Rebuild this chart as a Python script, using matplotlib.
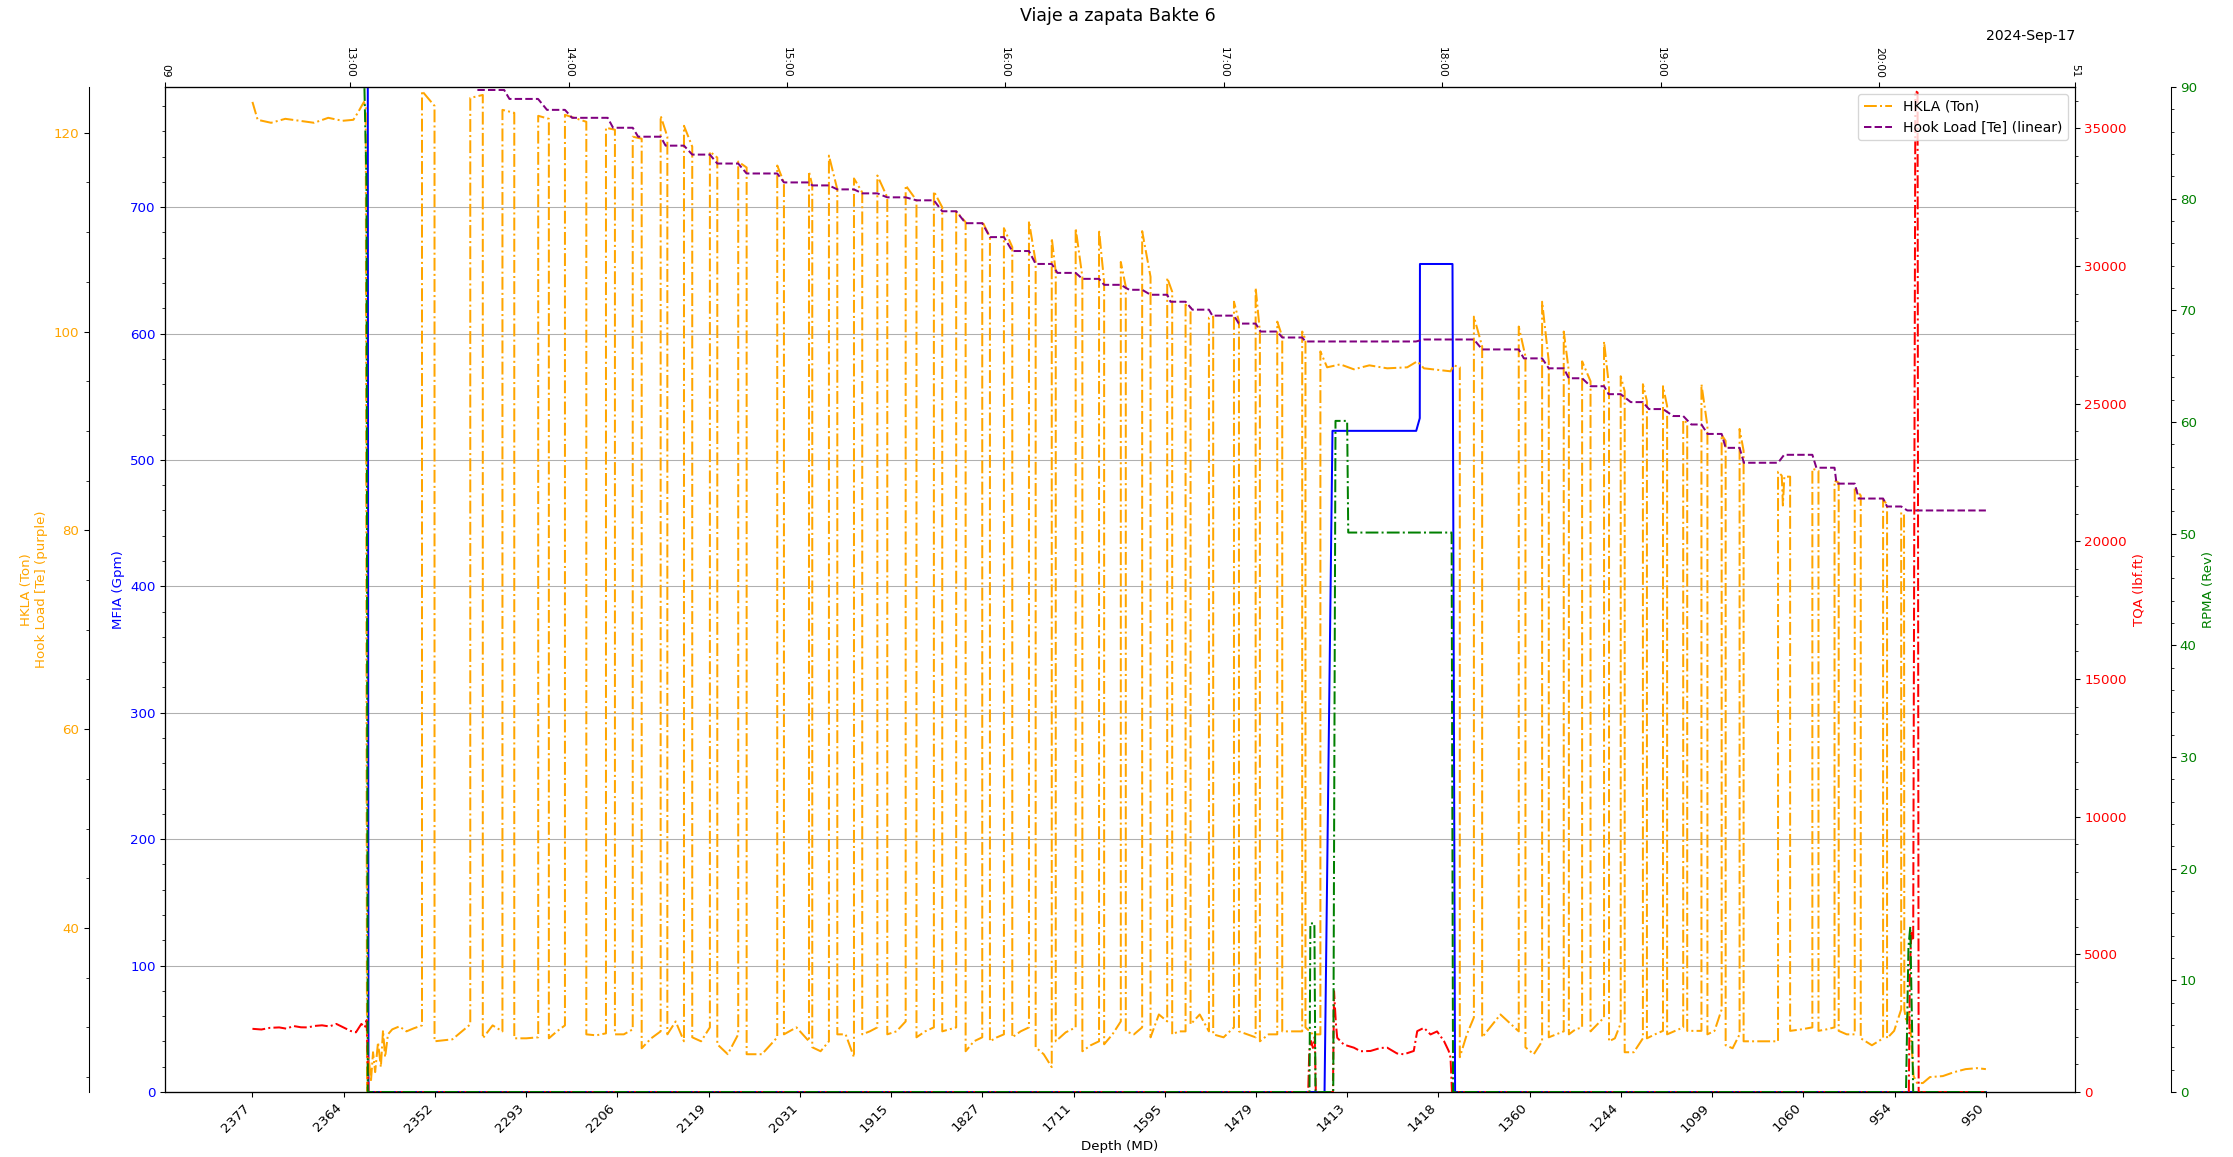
import numpy as np
import matplotlib
matplotlib.use('Agg')
import matplotlib.pyplot as plt
import matplotlib.dates as mdates
from matplotlib.ticker import MultipleLocator
from datetime import datetime, timedelta

# ---------------- data (times in minutes after 12:00, 2024-09-17) ----------------
BASE = datetime(2024, 9, 17, 12, 0, 0)

# HKLA (Ton) - segment before the first stand
hkla_pre_t = [33.17, 34.6, 38.3, 42.2, 46.2, 50.1, 54.0, 57.9, 60.9, 62.1, 63.8, 64.3,
              64.65, 65.12, 65.71, 66.30, 66.88, 67.67, 68.45, 69.04, 69.62, 70.40,
              71.58, 73.53, 75.49, 77.45, 79.75]
hkla_pre_v = [123.1, 121.3, 121.0, 121.4, 121.2, 121.0, 121.5, 121.2, 121.3, 122.0, 123.1, 122.5,
              23.6, 27.0, 24.5, 27.5, 25.5, 28.5, 26.0, 29.7, 27.0, 29.3,
              29.8, 30.1, 29.6, 29.9, 30.2]

# HKLA stands (pick-up / set-in-slips times and loads)
spike_up = [79.75, 93.01, 101.85, 111.67, 119.02, 130.29, 137.64, 145.31, 151.72, 158.84,
            166.62, 177.34, 186.06, 191.54, 198.42, 204.84, 212.62, 220.37, 226.50, 233.66,
            239.61, 246.49, 252.75, 259.32, 265.74, 271.72, 277.59, 284.47, 289.51, 295.93,
            302.81, 308.76, 314.70, 321.55, 326.55, 368.72, 381.04, 387.46, 393.40, 398.45,
            404.47, 409.05, 415.15, 420.67, 426.22, 431.23, 436.78, 441.71, 452.27, 461.70,
            467.79, 473.34, 481.13, 486.10]
spike_down = [83.19, 96.45, 105.10, 114.60, 124.89, 132.75, 140.10, 147.15, 153.99, 160.87,
              168.93, 179.18, 186.96, 193.84, 200.69, 207.57, 215.59, 222.67, 229.09, 235.77,
              241.91, 248.33, 253.85, 261.16, 267.14, 273.09, 279.89, 285.84, 290.88, 297.10,
              304.18, 309.93, 316.07, 322.45, 364.85, 370.99, 382.88, 389.29, 394.81, 400.76,
              405.84, 410.14, 416.25, 421.80, 427.32, 432.87, 437.88, 442.81, 455.59, 463.38,
              468.93, 474.99, 482.22, 486.88]
peak_up = [124.2, 123.5, 122.3, 121.7, 121.8, 120.5, 119.6, 121.7, 120.7, 118.1,
           117.1, 116.7, 116.1, 117.7, 115.4, 115.7, 114.7, 114.1, 112.1, 111.1,
           110.4, 111.1, 109.4, 110.4, 110.2, 107.0, 110.1, 105.4, 102.7, 101.4,
           103.0, 104.4, 101.0, 100.0, 98.0, 101.5, 100.5, 103.0, 100.0, 97.0,
           99.0, 95.5, 94.7, 94.5, 91.1, 94.7, 89.6, 90.2, 85.9, 86.2,
           85.0, 84.3, 83.1, 81.8]
peak_down = [122.7, 123.8, 122.0, 121.4, 121.1, 120.3, 119.4, 119.6, 118.6, 117.5,
             116.5, 115.0, 114.7, 114.3, 114.0, 113.5, 113.2, 112.5, 111.0, 109.5,
             108.5, 107.0, 106.0, 105.5, 105.0, 104.5, 105.5, 104.0, 102.4, 101.5,
             101.0, 100.0, 99.5, 99.2, 96.4, 98.5, 97.5, 97.0, 96.0, 95.0,
             94.5, 94.0, 93.0, 92.5, 90.8, 90.5, 89.0, 88.0, 85.4, 86.0,
             84.8, 83.5, 82.6, 81.5]
# loads while in slips between stands (after set, middle, before pick-up)
gap_lows = [[28.6, 28.8, 30.3], [28.9, 30.2, 29.6], [28.9, 28.9, 29.0], [28.9, 29.6, 30.2],
            [29.3, 29.2, 29.4], [29.3, 29.3, 29.8], [27.9, 28.9, 29.6], [29.3, 30.6, 28.6],
            [29.0, 28.6, 30.0], [28.3, 27.3, 29.3], [27.3, 27.3, 29.0], [29.3, 30.0, 28.6],
            [28.0, 27.6, 28.6], [29.3, 29.3, 27.0], [29.3, 29.6, 30.0], [29.3, 29.6, 30.6],
            [29.0, 29.6, 30.0], [29.6, 29.8, 30.0], [27.6, 28.6, 29.0], [28.6, 29.0, 29.3],
            [29.0, 29.6, 30.0], [28.0, 27.3, 26.0], [28.6, 29.5, 30.0], [27.6, 28.2, 28.6],
            [28.3, 29.3, 30.6], [29.6, 29.3, 30.0], [29.0, 31.3, 30.6], [29.3, 29.6, 29.6],
            [30.3, 31.3, 29.6], [29.3, 29.0, 30.0], [29.6, 29.3, 29.0], [28.6, 29.3, 29.3],
            [29.6, 29.6, 29.6], [30.0, 29.3, 29.3], [27.0, 29.3, 31.0], [29.0, 31.3, 29.6],
            [28.0, 27.3, 28.6], [29.0, 29.3, 29.6], [29.3, 29.8, 30.0], [29.6, 30.3, 31.0],
            [28.6, 28.9, 30.4], [27.5, 27.5, 28.9], [28.9, 29.3, 29.65], [29.3, 29.65, 30.0],
            [29.65, 29.65, 29.65], [29.3, 29.65, 31.8], [28.2, 27.9, 29.3], [28.6, 28.6, 28.6],
            [29.65, 29.8, 30.0], [29.65, 29.8, 30.0], [29.65, 29.3, 29.3], [28.9, 28.2, 28.9],
            [28.9, 29.65, 31.8]]
# circulating / rotating period (off slips)
plateau_t = [328.4, 332.0, 335.75, 340.0, 344.9, 350.4, 353.15, 355.0, 362.3, 363.2]
plateau_v = [96.4, 96.7, 96.2, 96.6, 96.3, 96.4, 97.0, 96.3, 96.0, 96.6]
dip_t = [453.3, 453.6, 454.0]
dip_v = [85.5, 82.5, 85.4]
hkla_post_t = [486.96, 487.55, 488.14, 488.72, 489.51, 490.48, 492.05, 494.0, 497.53,
               500.66, 503.79, 506.92, 509.37]
hkla_post_v = [31.8, 30.5, 31.5, 29.5, 25.1, 24.4, 24.4, 25.0, 25.1, 25.5, 25.8, 25.9, 25.8]

# Hook Load [Te] (linear): levels and step times
hl_start_t, hl_end_t = 94.97, 509.37
hl_step_start = [102.32, 111.63, 119.02, 130.76, 137.64, 145.31, 151.72, 158.84, 166.62, 177.34,
                 186.06, 191.54, 198.42, 204.84, 212.62, 220.37, 226.50, 233.66, 239.61, 246.49,
                 252.75, 259.32, 265.74, 271.72, 277.59, 284.47, 289.51, 295.93, 302.81, 308.76,
                 314.70, 321.55, 352.80, 368.72, 381.04, 387.46, 393.40, 398.45, 404.47, 409.05,
                 415.15, 420.67, 426.22, 431.23, 436.78, 441.71, 452.27, 461.70, 467.79, 473.34,
                 481.13, 486.10]
hl_step_end = [103.77, 114.09, 120.98, 132.24, 139.13, 146.67, 153.99, 160.87, 168.93, 179.18,
               186.96, 193.84, 200.69, 207.57, 215.59, 222.67, 229.09, 235.77, 241.91, 248.33,
               254.31, 261.16, 267.14, 274.03, 279.89, 285.37, 291.39, 296.87, 304.14, 310.13,
               316.07, 322.45, 354.95, 370.99, 382.45, 389.29, 394.81, 400.76, 405.72, 411.82,
               416.79, 423.49, 428.45, 432.91, 437.88, 442.88, 453.95, 462.80, 468.34, 474.44,
               482.22, 487.79]
hl_levels = [124.3, 123.4, 122.3, 121.5, 120.5, 119.6, 118.7, 117.8, 116.9, 115.9, 115.0,
             114.7, 114.3, 113.9, 113.5, 113.2, 112.1, 110.9, 109.5, 108.1, 106.8, 105.9,
             105.3, 104.7, 104.2, 103.7, 103.0, 102.2, 101.6, 100.8, 100.0, 99.4, 99.0,
             99.2, 98.2, 97.3, 96.3, 95.3, 94.5, 93.7, 92.9, 92.2, 91.5, 90.65, 89.7,
             88.3, 86.8, 87.6, 86.3, 84.7, 83.2, 82.4, 82.0]

# MFIA (Gpm)
mfia_t = [33.17, 64.85, 65.05, 327.69, 329.87, 352.87, 353.85, 353.9, 362.84, 363.55, 509.37]
mfia_v = [830, 830, 0, 0, 523, 523, 533, 655, 655, 0, 0]

# TQA (lbf.ft)
tqa_t = [33.17, 35.63, 38.0, 40.52, 42.5, 44.44, 46.5, 48.35, 50.3, 52.29, 54.3, 56.21, 58.16,
         60.12, 61.6, 63.09, 64.07, 64.54, 64.8, 65.05, 323.2, 323.5, 324.0, 324.5, 325.0,
         325.3, 330.0, 330.3, 330.8, 331.17, 333.0, 335.75, 337.6, 340.3, 343.05, 344.9,
         347.6, 349.5, 352.2, 353.15, 355.0, 356.8, 358.6, 360.5, 361.8, 362.3, 362.7,
         488.2, 488.5, 488.9, 489.4, 490.0, 490.6, 490.9, 509.37]
tqa_v = [2295, 2270, 2330, 2346, 2300, 2397, 2350, 2346, 2400, 2422, 2380, 2473, 2346,
         2218, 2167, 2473, 2346, 2601, 1453, 0, 0, 1500, 1850, 1600, 2000,
         0, 0, 3660, 2500, 1970, 1720, 1610, 1480, 1490, 1600, 1610,
         1400, 1370, 1490, 2210, 2330, 2090, 2200, 1850, 1490, 1250, 0,
         0, 4500, 5780, 5500, 36350, 36300, 0, 0]

# RPMA (Rev)
rpm_t = [33.17, 63.8, 63.95, 64.5, 64.85, 323.55, 323.8, 324.9, 325.2, 330.08, 330.7,
         333.9, 334.2, 362.6, 363.0, 487.42, 488.1, 488.6, 489.4, 509.37]
rpm_v = [97, 97, 89.7, 81.5, 0, 0, 15.1, 15.1, 0, 0, 60.1,
         60.1, 50.1, 50.1, 0, 0, 13.0, 14.8, 0, 0]

# axis labels / ticks
depth_labels = ['2377', '2364', '2352', '2293', '2206', '2119', '2031', '1915', '1827', '1711',
                '1595', '1479', '1413', '1418', '1360', '1244', '1099', '1060', '954', '950']
hour_ticks = [13, 14, 15, 16, 17, 18, 19, 20]
edge_labels = ['09', '51']
xlim_minutes = [9.15, 533.85]

# ---------------- build series ----------------
def tm(mins):
    return [BASE + timedelta(minutes=float(m)) for m in mins]

ot, ov = list(hkla_pre_t), list(hkla_pre_v)
n = len(spike_up)
for i in range(n):
    ot.append(spike_up[i]); ov.append(peak_up[i])
    if i == 34:
        ot += plateau_t; ov += plateau_v
    if i == 48:
        ot += dip_t; ov += dip_v
    ot.append(spike_down[i]); ov.append(peak_down[i])
    if i < n - 1:
        mid = 0.5 * (spike_down[i] + spike_up[i + 1])
        ot += [spike_down[i], mid, spike_up[i + 1]]
        ov += gap_lows[i]
ot += hkla_post_t; ov += hkla_post_v

ht, hv = [hl_start_t], [hl_levels[0]]
for k in range(len(hl_step_start)):
    ht += [hl_step_start[k], hl_step_end[k]]
    hv += [hl_levels[k], hl_levels[k + 1]]
ht.append(hl_end_t); hv.append(hl_levels[-1])

# ---------------- figure ----------------
DPI = 96
fig = plt.figure(figsize=(2233 / DPI, 1157 / DPI), dpi=DPI)
ax = fig.add_subplot(111)
fig.subplots_adjust(left=165 / 2233, right=2075 / 2233, top=1 - 87 / 1157, bottom=1 - 1092 / 1157)

ax_h = ax.twinx()
ax_t = ax.twinx()
ax_r = ax.twinx()

ax.plot(tm(mfia_t), mfia_v, color='blue', lw=1.5, label='MFIA (Gpm)')
l1, = ax_h.plot(tm(ot), ov, color='orange', ls='-.', lw=1.5, label='HKLA (Ton)')
l2, = ax_h.plot(tm(ht), hv, color='purple', ls='--', lw=1.5, label='Hook Load [Te] (linear)')
ax_t.plot(tm(tqa_t), tqa_v, color='red', ls='-.', lw=1.5)
ax_r.plot(tm(rpm_t), rpm_v, color='green', ls='-.', lw=1.5)

xmin = mdates.date2num(BASE + timedelta(minutes=xlim_minutes[0]))
xmax = mdates.date2num(BASE + timedelta(minutes=xlim_minutes[1]))
for a in (ax, ax_h, ax_t, ax_r):
    a.set_xlim(xmin, xmax)

ax.set_ylim(0, 795)
ax_h.set_ylim(23.5, 124.6)
ax_t.set_ylim(0, 36500)
ax_r.set_ylim(0, 90)

ax.yaxis.set_major_locator(MultipleLocator(100)); ax.yaxis.set_minor_locator(MultipleLocator(20))
ax_h.yaxis.set_major_locator(MultipleLocator(20)); ax_h.yaxis.set_minor_locator(MultipleLocator(5))
ax_t.yaxis.set_major_locator(MultipleLocator(5000)); ax_t.yaxis.set_minor_locator(MultipleLocator(1000))
ax_r.yaxis.set_major_locator(MultipleLocator(10)); ax_r.yaxis.set_minor_locator(MultipleLocator(2))

ax_h.spines['left'].set_position(('axes', -0.04))
ax_h.spines['left'].set_visible(True)
ax_h.spines['right'].set_visible(False)
ax_h.yaxis.set_ticks_position('left')
ax_h.yaxis.set_label_position('left')
ax_r.spines['right'].set_position(('axes', 1.05))

ax.set_ylabel('MFIA (Gpm)', color='blue')
ax_h.set_ylabel('HKLA (Ton)\nHook Load [Te] (purple)', color='orange')
ax_t.set_ylabel('TQA (lbf.ft)', color='red')
ax_r.set_ylabel('RPMA (Rev)', color='green')
ax.tick_params(axis='y', which='both', labelcolor='blue')
ax_h.tick_params(axis='y', which='both', labelcolor='orange')
ax_t.tick_params(axis='y', which='both', labelcolor='red')
ax_r.tick_params(axis='y', which='both', labelcolor='green')

ax.grid(True, axis='y', color='#b0b0b0', lw=0.8)

# bottom: depth labels at evenly spaced times across the record
t0 = mdates.date2num(BASE + timedelta(minutes=hkla_pre_t[0]))
t1 = mdates.date2num(BASE + timedelta(minutes=hkla_post_t[-1]))
ax.set_xticks(np.linspace(t0, t1, len(depth_labels)))
ax.set_xticklabels(depth_labels, rotation=45, ha='right')
ax.set_xlabel('Depth (MD)')

# top: clock time
ax_top = ax.twiny()
ax_top.set_xlim(xmin, xmax)
top_pos = [xmin] + [mdates.date2num(BASE + timedelta(hours=h - 12)) for h in hour_ticks] + [xmax]
top_lab = [edge_labels[0]] + ['%02d:00' % h for h in hour_ticks] + [edge_labels[1]]
ax_top.set_xticks(top_pos)
ax_top.set_xticklabels(top_lab, rotation=-90, fontsize=8)
ax_top.annotate('2024-Sep-17', xy=(1, 1), xycoords='axes fraction', xytext=(0, 35),
                textcoords='offset points', ha='right', va='baseline', fontsize=10.5)

ax_r.legend(handles=[l1, l2], loc='upper right', fontsize=10.5)

fig.text(1118 / 2233, 1 - 16 / 1157, 'Viaje a zapata Bakte 6', ha='center', va='center', fontsize=13)

fig.savefig('out.png', dpi=DPI)
